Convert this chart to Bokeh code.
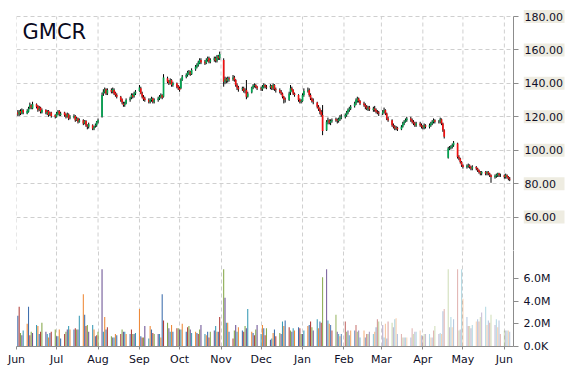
import pandas as pd
from bokeh.plotting import figure
from bokeh.layouts import column, row
from bokeh.core.properties import value
from bokeh.models import (Range1d, FixedTicker, CustomJSTickFormatter,
                          DatetimeTickFormatter, Label, ColumnDataSource)
from bokeh.embed import file_html
from bokeh.resources import INLINE

# ---------------- data ----------------
dates = pd.bdate_range("2014-06-02", "2015-06-05")

opens = [
    122.5, 121.5, 123.5, 122.0, 124.0,
    122.0, 123.0, 125.5, 127.0, 125.0,
    127.5, 126.5, 124.0, 125.5, 122.5,
    124.0, 122.0, 123.5, 121.0, 122.5,
    121.0, 120.0, 121.5, 123.5, 121.0,
    122.5, 121.5, 120.0, 121.5, 119.5,
    119.5, 120.5, 118.0, 119.0, 117.0,
    118.0, 116.0, 117.5, 115.0, 114.0,
    115.0, 113.0, 114.5, 115.0, 117.0,
    120.0, 134.0, 135.0, 136.5, 134.0,
    136.0, 135.0, 136.0, 134.5, 133.0,
    132.0, 130.5, 128.0, 127.0, 128.0,
    130.0, 131.5, 133.0, 132.5, 134.0,
    135.5, 137.0, 134.0, 132.0, 131.0,
    130.0, 129.0, 130.0, 131.0, 129.0,
    130.0, 131.0, 132.0, 133.0, 132.0,
    143.0, 141.5, 140.0, 142.0, 139.0,
    140.0, 138.5, 137.0, 137.0, 142.0,
    144.0, 145.0, 146.0, 147.0, 145.5,
    148.5, 150.0, 151.0, 152.0, 154.0,
    153.0, 152.0, 154.0, 155.0, 153.0,
    154.0, 155.0, 153.5, 156.0, 155.0,
    154.0, 141.0, 142.5, 141.5, 143.0,
    142.5, 143.5, 142.0, 139.0, 137.5,
    136.5, 137.0, 135.5, 136.0, 132.0,
    134.5, 137.5, 138.5, 139.0, 138.0,
    137.0, 136.5, 138.0, 139.0, 138.0,
    137.5, 138.5, 137.0, 139.0, 136.5,
    136.0, 135.0, 134.0, 132.0, 130.5,
    130.0, 134.5, 137.0, 136.0, 134.0,
    133.0, 130.0, 129.0, 129.5, 133.0,
    135.5, 136.0, 133.0, 131.0, 129.5,
    128.5, 126.0, 124.5, 123.0, 121.0,
    112.0, 117.0, 118.0, 116.5, 117.5,
    118.5, 118.0, 117.5, 118.5, 119.5,
    120.0, 121.0, 122.5, 124.0, 125.0,
    126.5, 128.0, 129.5, 131.0, 129.5,
    128.0, 127.0, 126.0, 124.5, 125.5,
    124.0, 125.0, 124.0, 123.0, 122.5,
    122.0, 123.0, 124.0, 122.0, 119.0,
    118.0, 115.0, 114.0, 113.0, 113.5,
    112.5, 114.0, 116.0, 117.0, 118.0,
    119.0, 118.0, 117.0, 116.0, 115.0,
    116.0, 115.0, 114.0, 113.5, 115.0,
    114.0, 115.0, 116.0, 117.0, 118.0,
    117.0, 117.0, 118.5, 116.0, 112.0,
    95.5, 101.0, 101.5, 102.0, 103.0,
    104.0, 96.0, 95.0, 93.0, 91.0,
    90.0, 90.5, 91.0, 90.0, 89.0,
    90.0, 89.0, 88.0, 87.0, 86.0,
    87.0, 86.0, 87.0, 86.0, 85.0,
    84.0, 84.5, 85.0, 86.0, 85.0,
    85.0, 84.0, 85.0, 84.0, 83.0,
]

highs = [
    124.0, 124.0, 124.5, 125.0, 124.5,
    124.5, 126.0, 128.5, 127.5, 129.0,
    128.0, 127.0, 126.5, 126.0, 125.0,
    124.5, 124.0, 124.0, 123.0, 123.0,
    121.5, 123.0, 124.0, 124.0, 123.0,
    123.0, 122.0, 122.5, 122.0, 121.0,
    121.5, 121.0, 120.0, 119.5, 119.0,
    118.5, 118.0, 118.0, 115.5, 116.5,
    115.5, 114.5, 116.0, 117.5, 119.0,
    134.5, 136.5, 137.5, 137.0, 137.0,
    137.0, 137.5, 137.0, 135.0, 134.0,
    132.5, 131.0, 129.0, 129.0, 131.0,
    132.0, 134.0, 134.0, 135.0, 136.0,
    139.0, 138.0, 135.0, 133.0, 132.0,
    131.0, 131.0, 132.0, 131.5, 131.0,
    132.0, 133.0, 134.0, 133.5, 145.5,
    144.0, 142.0, 143.0, 142.5, 141.0,
    140.5, 139.0, 138.0, 143.0, 145.0,
    146.0, 147.5, 148.0, 147.5, 149.0,
    151.0, 152.0, 153.5, 155.0, 155.0,
    154.0, 155.0, 156.0, 156.0, 155.0,
    156.0, 156.0, 157.0, 157.0, 159.0,
    155.0, 144.0, 143.5, 144.0, 144.0,
    145.0, 144.5, 142.5, 140.0, 138.5,
    138.0, 138.0, 137.0, 142.0, 135.0,
    138.0, 139.5, 140.0, 139.5, 138.5,
    138.0, 139.0, 140.0, 139.5, 139.0,
    139.5, 139.0, 140.0, 139.5, 137.5,
    137.0, 136.0, 134.5, 132.5, 131.5,
    135.0, 139.0, 138.0, 136.5, 134.5,
    133.5, 131.0, 130.5, 134.0, 137.0,
    137.5, 137.0, 134.0, 131.5, 131.0,
    129.0, 127.0, 125.5, 124.0, 127.0,
    118.0, 119.5, 118.5, 118.5, 119.0,
    119.5, 119.0, 119.5, 121.0, 121.5,
    122.0, 123.5, 125.0, 126.0, 127.0,
    129.0, 131.0, 132.0, 131.5, 130.0,
    129.0, 128.0, 127.0, 126.5, 126.5,
    126.0, 126.5, 125.0, 124.0, 123.5,
    124.0, 125.5, 124.5, 122.5, 120.0,
    118.5, 116.0, 115.0, 114.5, 114.0,
    115.0, 117.0, 118.0, 119.0, 120.0,
    120.0, 119.0, 118.0, 117.0, 117.0,
    117.0, 116.0, 115.0, 116.0, 115.5,
    116.0, 117.0, 118.0, 119.0, 118.5,
    118.0, 119.5, 119.0, 116.5, 112.5,
    102.0, 102.5, 103.0, 104.0, 105.5,
    104.5, 97.0, 95.5, 93.5, 91.5,
    91.5, 92.0, 91.5, 90.5, 91.0,
    90.5, 89.5, 88.5, 87.5, 87.5,
    87.5, 87.5, 87.5, 86.5, 85.5,
    85.5, 86.0, 86.5, 86.5, 86.0,
    85.5, 86.0, 85.5, 84.5, 84.0,
]

lows = [
    120.5, 120.5, 121.0, 121.5, 121.5,
    121.5, 122.5, 124.5, 124.5, 124.5,
    125.0, 123.0, 123.5, 122.0, 122.0,
    121.5, 121.0, 120.0, 120.5, 119.5,
    119.0, 119.5, 121.0, 120.5, 120.5,
    120.0, 119.0, 119.5, 118.0, 118.5,
    119.0, 117.0, 117.5, 116.0, 116.5,
    115.0, 115.5, 114.0, 112.5, 113.0,
    112.0, 112.0, 113.5, 114.0, 116.0,
    119.5, 132.5, 134.0, 133.0, 133.0,
    134.0, 134.0, 133.0, 132.0, 131.0,
    129.0, 127.5, 126.0, 126.0, 127.5,
    129.0, 130.5, 131.0, 131.5, 133.0,
    135.0, 133.5, 131.0, 129.5, 129.0,
    128.0, 128.0, 129.0, 128.0, 128.0,
    129.0, 130.0, 131.0, 130.5, 131.5,
    140.0, 139.0, 139.5, 138.0, 138.0,
    137.0, 136.0, 135.0, 136.5, 141.5,
    143.0, 144.0, 145.0, 144.5, 145.0,
    147.5, 149.0, 150.0, 151.5, 151.5,
    151.0, 151.5, 153.0, 152.0, 152.0,
    153.0, 152.5, 152.5, 154.0, 154.0,
    138.0, 139.5, 140.0, 140.5, 141.0,
    141.5, 141.0, 138.0, 136.0, 135.0,
    135.5, 134.5, 134.0, 130.5, 131.5,
    134.0, 136.5, 137.5, 137.0, 136.0,
    135.5, 135.5, 137.0, 137.0, 136.5,
    136.5, 136.0, 136.0, 135.5, 134.5,
    134.0, 133.0, 131.0, 128.0, 128.5,
    129.5, 133.0, 135.0, 133.0, 132.0,
    129.0, 128.0, 128.0, 129.0, 132.0,
    134.5, 132.0, 130.0, 128.5, 127.5,
    125.0, 123.5, 121.5, 120.0, 109.0,
    111.5, 115.5, 115.5, 115.0, 116.5,
    117.0, 116.0, 116.5, 117.5, 118.5,
    119.0, 120.0, 121.5, 123.0, 124.0,
    125.5, 127.0, 128.5, 128.5, 127.0,
    126.0, 124.5, 124.0, 123.5, 123.5,
    123.0, 123.0, 122.0, 121.5, 120.5,
    121.0, 122.0, 121.0, 118.0, 117.0,
    114.0, 113.0, 112.0, 112.0, 111.5,
    112.0, 113.5, 115.0, 116.5, 117.0,
    117.0, 116.0, 115.0, 114.0, 114.0,
    114.0, 113.0, 112.5, 112.5, 113.0,
    113.0, 114.0, 115.0, 116.0, 116.0,
    116.0, 116.0, 115.0, 111.0, 107.0,
    95.0, 100.0, 100.5, 101.0, 102.0,
    95.0, 94.0, 92.0, 90.0, 89.0,
    89.0, 89.5, 89.0, 88.0, 88.0,
    88.0, 87.0, 86.0, 85.0, 85.0,
    85.0, 85.0, 85.0, 84.0, 80.5,
    83.0, 83.5, 84.0, 84.0, 84.0,
    83.0, 83.0, 83.0, 82.0, 81.5,
]

closes = [
    121.5, 123.0, 122.0, 124.0, 122.5,
    123.5, 125.0, 127.0, 125.5, 127.5,
    126.0, 124.0, 125.0, 123.0, 124.0,
    122.5, 123.0, 121.0, 122.0, 120.5,
    120.0, 122.0, 123.0, 121.5, 122.0,
    121.0, 120.0, 121.5, 119.0, 120.0,
    120.5, 118.0, 119.0, 117.0, 118.0,
    116.0, 117.5, 115.0, 114.0, 115.5,
    113.0, 114.0, 115.0, 117.0, 118.0,
    133.0, 135.0, 136.5, 134.0, 136.0,
    135.0, 136.5, 134.0, 133.0, 132.0,
    130.0, 128.5, 127.0, 128.0, 130.0,
    131.0, 133.0, 132.0, 134.0, 135.0,
    137.5, 134.0, 132.0, 130.5, 130.0,
    129.0, 130.0, 131.0, 129.0, 130.0,
    131.0, 132.0, 133.0, 131.5, 143.5,
    141.0, 140.0, 142.0, 139.0, 140.0,
    138.0, 137.0, 136.0, 142.0, 144.0,
    145.0, 146.5, 147.0, 145.5, 148.0,
    150.0, 151.0, 152.5, 154.0, 152.5,
    152.0, 154.0, 155.0, 153.0, 154.0,
    155.0, 153.5, 156.0, 155.0, 157.5,
    141.0, 142.5, 141.5, 143.0, 142.5,
    143.5, 142.0, 139.0, 137.5, 136.5,
    137.0, 135.5, 136.0, 132.0, 134.0,
    137.5, 138.5, 139.0, 138.0, 137.0,
    136.5, 138.0, 139.0, 138.0, 137.5,
    138.5, 137.0, 139.0, 136.5, 136.0,
    135.0, 134.0, 132.0, 130.5, 130.0,
    134.0, 137.0, 136.0, 134.0, 133.0,
    130.0, 129.0, 129.5, 133.0, 135.5,
    136.0, 133.0, 131.0, 129.5, 129.0,
    126.0, 124.5, 123.0, 121.0, 111.5,
    117.0, 118.0, 116.5, 117.5, 118.0,
    118.0, 117.5, 118.5, 119.5, 120.0,
    121.0, 122.5, 124.0, 125.0, 126.0,
    128.0, 130.0, 131.0, 129.5, 128.0,
    127.0, 126.0, 125.0, 125.5, 124.5,
    125.0, 124.0, 123.0, 122.5, 122.0,
    123.0, 124.0, 122.0, 119.0, 118.0,
    115.0, 114.0, 113.0, 113.5, 112.5,
    114.0, 116.0, 117.0, 118.0, 119.0,
    118.0, 117.0, 116.0, 115.0, 116.0,
    115.0, 114.0, 113.5, 115.0, 114.0,
    115.0, 116.0, 117.0, 118.0, 117.0,
    117.0, 118.5, 116.0, 112.0, 108.0,
    101.0, 101.5, 102.0, 103.0, 104.5,
    96.0, 95.0, 93.0, 91.0, 90.0,
    90.5, 91.0, 90.0, 89.0, 90.0,
    89.0, 88.0, 87.0, 86.0, 87.0,
    86.0, 87.0, 86.0, 85.0, 84.0,
    84.5, 85.0, 86.0, 85.0, 85.0,
    84.0, 85.0, 84.0, 83.0, 82.5,
]

volume_millions = [
    2.7, 3.5, 1.2, 1.0, 1.4,
    2.0, 3.5, 1.0, 1.3, 1.2,
    1.9, 1.8, 1.1, 1.3, 2.1,
    1.3, 1.1, 0.8, 1.2, 1.3,
    1.5, 0.9, 0.9, 1.5, 0.7,
    1.1, 1.3, 1.5, 1.8, 1.5,
    1.5, 1.6, 1.5, 1.5, 2.7,
    4.6, 2.8, 1.8, 1.9, 1.3,
    1.9, 1.5, 0.9, 1.0, 1.3,
    6.8, 1.3, 2.6, 1.5, 1.7,
    0.9, 0.8, 0.8, 1.1, 1.0,
    1.1, 1.5, 1.3, 1.3, 1.1,
    1.1, 1.5, 1.1, 1.1, 1.2,
    3.3, 0.9, 0.8, 0.8, 1.8,
    0.7, 1.8, 1.5, 1.2, 1.1,
    1.1, 1.1, 0.8, 4.6, 2.3,
    2.1, 1.6, 1.3, 1.9, 1.3,
    1.6, 1.6, 1.5, 1.5, 2.0,
    1.3, 1.7, 1.8, 1.5, 1.2,
    1.3, 1.2, 1.1, 1.5, 1.9,
    1.1, 1.0, 1.3, 0.8, 1.3,
    1.4, 1.8, 1.3, 1.3, 2.6,
    6.8, 4.3, 2.1, 2.1, 1.3,
    0.7, 1.4, 1.9, 1.3, 1.7,
    1.4, 1.3, 1.8, 1.6, 3.3,
    1.3, 1.2, 1.0, 1.5, 1.9,
    1.1, 1.9, 1.6, 1.0, 1.6,
    0.6, 0.7, 1.2, 1.5, 0.9,
    1.2, 1.1, 2.2, 1.8, 2.3,
    1.7, 1.4, 1.3, 1.6, 1.4,
    1.7, 1.6, 1.1, 1.1, 1.4,
    1.8, 1.9, 2.2, 1.7, 1.4,
    2.4, 1.6, 2.2, 2.1, 6.1,
    6.8, 2.3, 2.0, 1.9, 1.4,
    2.8, 1.3, 1.1, 0.9, 1.1,
    2.2, 1.3, 1.4, 1.0, 1.4,
    1.4, 1.9, 1.3, 1.4, 0.8,
    1.4, 0.8, 1.1, 1.1, 1.3,
    1.1, 1.3, 1.7, 2.4, 2.2,
    1.9, 0.8, 2.0, 0.7, 2.2,
    2.1, 1.7, 2.4, 2.5, 1.1,
    1.1, 0.8, 0.8, 0.8, 0.8,
    0.8, 1.6, 1.1, 1.3, 1.3,
    1.4, 1.0, 0.9, 1.1, 1.1,
    1.1, 0.8, 0.8, 1.4, 1.8,
    1.1, 1.2, 1.1, 3.1, 3.3,
    6.8, 1.7, 2.6, 1.7, 2.4,
    6.8, 1.4, 1.5, 6.8, 4.2,
    2.6, 1.8, 1.8, 1.6, 1.9,
    2.2, 2.4, 2.2, 2.6, 3.0,
    3.5, 1.9, 2.3, 2.1, 2.8,
    1.9, 2.4, 1.7, 2.3, 1.1,
    1.4, 1.4, 1.4, 1.4, 1.3,
]

month_starts = ["2014-06-01", "2014-07-01", "2014-08-01", "2014-09-01", "2014-10-01",
                "2014-11-01", "2014-12-01", "2015-01-01", "2015-02-01", "2015-03-01",
                "2015-04-01", "2015-05-01", "2015-06-01"]
price_ticks = [60, 80, 100, 120, 140, 160, 180]
price_labels = ["60.00", "80.00", "100.00", "120.00", "140.00", "160.00", "180.00"]
price_grid = [40, 60, 80, 100, 120, 140, 160, 180]
volume_ticks = [0, 2000000, 4000000, 6000000]
volume_labels = ["0.0K", "2.0M", "4.0M", "6.0M"]
ticker_symbol = "GMCR"

# ---------------- helpers / styles ----------------
def ms(t):
    return pd.Timestamp(t).value / 1e6

DAY = 86400000.0
x_ms = [ms(d) for d in dates]
month_ms = [ms(m) for m in month_starts]

UP, DOWN = "#00A651", "#F01010"
body_col = [UP if c > o else (DOWN if c < o else "#000000") for o, c in zip(opens, closes)]
palette = ["#3F6FAE", "#B23F3B", "#86A84A", "#6E5596", "#3A9BB6", "#EE8A3A"]
fade_start, fade_end = ms("2015-01-10"), ms("2015-03-15")
vol_alpha = []
for xv in x_ms:
    if xv <= fade_start:
        vol_alpha.append(1.0)
    elif xv >= fade_end:
        vol_alpha.append(0.38)
    else:
        f = (xv - fade_start) / (fade_end - fade_start)
        vol_alpha.append(1.0 - 0.62 * f)
vol_color = [palette[i % len(palette)] for i in range(len(x_ms))]

src = ColumnDataSource(dict(
    x=x_ms, open=opens, high=highs, low=lows, close=closes,
    top=[max(o, c) for o, c in zip(opens, closes)],
    bottom=[min(o, c) for o, c in zip(opens, closes)],
    color=body_col,
    volume=[v * 1e6 for v in volume_millions],
    vcolor=vol_color, valpha=vol_alpha,
))

FONT = "DejaVu Sans"
LABEL_COLOR = "#101028"
AXIS_COLOR = "#8C8C8C"
GRID_COLOR = "#CFCFCF"
FRAME_W = 497
LEFT, TOP = 16, 16
PRICE_H = 234        # pixels from price 180 down to price 40
AXIS_W = 10          # space reserved for the price axis line + ticks
LABEL_W = 47         # strip holding the price tick labels
P_LO, P_HI = 40, 180

px_per_unit = PRICE_H / (P_HI - P_LO)
x_range = Range1d(start=ms("2014-06-01"), end=ms("2015-06-07 20:00"))
# frame starts at the very top of the canvas; 180 sits TOP px below it
y_price = Range1d(P_LO, P_HI + TOP / px_per_unit)

# ---------------- price panel ----------------
p = figure(width=LEFT + FRAME_W + AXIS_W, height=TOP + PRICE_H,
           x_range=x_range, y_range=y_price,
           x_axis_type="datetime", x_axis_location=None, y_axis_location="right",
           output_backend="svg", toolbar_location=None,
           min_border_left=LEFT, min_border_top=0, min_border_bottom=0, min_border_right=AXIS_W,
           outline_line_color=None, background_fill_color="white", border_fill_color="white")

p.xgrid.visible = False
p.ygrid.ticker = FixedTicker(ticks=price_grid)
p.ygrid.grid_line_color = GRID_COLOR
p.ygrid.grid_line_dash = "4 3"
# vertical month grid lines, limited to the price span
p.segment(x0=month_ms, y0=[P_LO] * len(month_ms), x1=month_ms, y1=[P_HI] * len(month_ms),
          line_color=GRID_COLOR, line_dash="4 3", line_width=1)

p.segment(x0="x", y0="low", x1="x", y1="high", source=src, line_color="black", line_width=1)
p.vbar(x="x", width=DAY * 1.25, top="top", bottom="bottom", source=src,
       fill_color="color", line_color=None)

ya = p.yaxis[0]
ya.bounds = (P_LO, P_HI)
ya.ticker = FixedTicker(ticks=price_grid)
ya.formatter = CustomJSTickFormatter(code="return '';")
ya.axis_line_color = AXIS_COLOR
ya.major_tick_line_color = AXIS_COLOR
ya.major_tick_out = 5
ya.major_tick_in = 0
ya.minor_tick_line_color = None
ya.major_label_standoff = 0
ya.major_label_text_font_size = "1px"

p.add_layout(Label(x=ms("2014-06-05 12:00"), y=178.0, text=ticker_symbol,
                   text_font=FONT, text_font_size="21px", text_baseline="top",
                   text_align="left", text_color="#0A0A1E"))

# ---------------- price tick labels strip (with tinted boxes) ----------------
pl = figure(width=LABEL_W, height=TOP + PRICE_H,
            x_range=Range1d(0, LABEL_W), y_range=y_price,
            x_axis_location=None, y_axis_location=None,
            output_backend="svg", toolbar_location=None,
            min_border_left=0, min_border_right=0, min_border_top=0, min_border_bottom=0,
            outline_line_color=None, background_fill_color="white", border_fill_color="white")
pl.grid.visible = False
lab_src = ColumnDataSource(dict(y=price_ticks, text=price_labels))
pl.rect(x=20.5, y="y", width=41, height=13, width_units="screen", height_units="screen",
        source=lab_src, fill_color="#EEECE1", line_color=None)
pl.text(x=1, y="y", text="text", source=lab_src, text_font=value(FONT),
        text_font_size=value("11px"), text_color=LABEL_COLOR,
        text_baseline="middle", text_align="left")

# ---------------- volume panel ----------------
v = figure(frame_width=FRAME_W, frame_height=96, x_range=x_range, y_range=Range1d(0, 8.46e6),
           x_axis_type="datetime", y_axis_location="right",
           output_backend="svg", toolbar_location=None,
           min_border_left=LEFT, min_border_top=0, min_border_bottom=0, min_border_right=45,
           outline_line_color=None, background_fill_color="white", border_fill_color="white")

v.ygrid.visible = False
v.xgrid.ticker = FixedTicker(ticks=month_ms)
v.xgrid.grid_line_color = GRID_COLOR
v.xgrid.grid_line_dash = "4 3"

v.vbar(x="x", width=DAY * 0.8, top="volume", bottom=0, source=src,
       fill_color="vcolor", fill_alpha="valpha", line_color=None)

xa = v.xaxis[0]
xa.ticker = FixedTicker(ticks=month_ms)
xa.formatter = DatetimeTickFormatter(days="%b", months="%b", years="%b")
xa.axis_line_color = AXIS_COLOR
xa.major_tick_line_color = AXIS_COLOR
xa.major_tick_out = 3
xa.major_tick_in = 0
xa.minor_tick_line_color = None
xa.major_label_text_font = FONT
xa.major_label_text_font_size = "11px"
xa.major_label_text_color = LABEL_COLOR
xa.major_label_standoff = 3

va = v.yaxis[0]
va.ticker = FixedTicker(ticks=volume_ticks)
va.formatter = CustomJSTickFormatter(args=dict(vt=volume_ticks, vl=volume_labels),
                                     code="const i = vt.indexOf(tick); return i >= 0 ? vl[i] : '';")
va.axis_line_color = AXIS_COLOR
va.major_tick_line_color = AXIS_COLOR
va.major_tick_out = 5
va.major_tick_in = 0
va.minor_tick_line_color = None
va.major_label_text_font = FONT
va.major_label_text_font_size = "11px"
va.major_label_text_color = LABEL_COLOR
va.major_label_standoff = 5

layout = column(row(p, pl, spacing=0), v, spacing=0)
open("out.html", "w").write(file_html(layout, INLINE))
